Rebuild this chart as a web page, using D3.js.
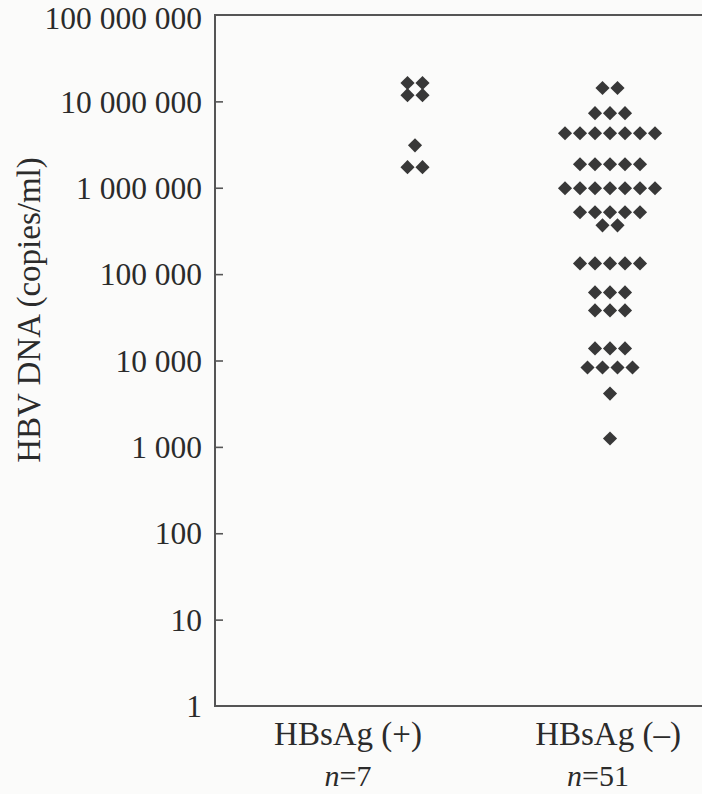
<!DOCTYPE html>
<html>
<head>
<meta charset="utf-8">
<script src="https://cdn.jsdelivr.net/npm/d3@7"></script>
<style>
  html, body { margin: 0; padding: 0; background: #fbfbfa; }
  text { font-family: "Liberation Serif", "DejaVu Serif", serif; fill: #2b2b2b; }
</style>
</head>
<body>
<div id="myPlot"></div>
<script>
// Set Dimensions
const width = 702;
const height = 794;
const plotLeft = 215, plotTop = 15, plotBottom = 706;

// Data
const groups = ["HBsAg (+)", "HBsAg (\u2013)"];
const groupN = ["7", "51"];
const yTicks = [1, 10, 100, 1000, 10000, 100000, 1000000, 10000000, 100000000];

// HBsAg (+), copies/ml, one entry per patient
const posValues = [
  16300000, 16300000,
  11800000, 11800000,
  3100000,
  1730000, 1730000
];

// HBsAg (-), copies/ml, one entry per patient
const negValues = [
  14300000, 14300000,
  7300000, 7300000, 7300000,
  4280000, 4280000, 4280000, 4280000, 4280000, 4280000, 4280000,
  1870000, 1870000, 1870000, 1870000, 1870000,
  987000, 987000, 987000, 987000, 987000, 987000, 987000,
  520000, 520000, 520000, 520000, 520000,
  367000, 367000,
  133000, 133000, 133000, 133000, 133000,
  61400, 61400, 61400,
  38000, 38000, 38000,
  13800, 13800, 13800,
  8300, 8300, 8300, 8300,
  4140,
  1250
];

const svg = d3.select("#myPlot")
  .append("svg")
  .attr("width", width)
  .attr("height", height);

// Y Axis (log)
const y = d3.scaleLog()
  .domain([1, 100000000])
  .range([plotBottom, plotTop]);

const fmt = d3.formatLocale({decimal: ".", thousands: " ", grouping: [3], currency: ["", ""]}).format(",d");

// frame (right side runs off the picture)
svg.append("path")
  .attr("d", `M${width + 10},${plotTop}H${plotLeft}V${plotBottom}H${width + 10}`)
  .attr("fill", "none")
  .attr("stroke", "#555")
  .attr("stroke-width", 2);

const yAxis = svg.append("g")
  .attr("class", "y-axis")
  .attr("transform", `translate(${plotLeft},0)`)
  .call(d3.axisLeft(y)
    .tickValues(yTicks)
    .tickFormat(fmt)
    .tickSizeInner(-8)
    .tickSizeOuter(0)
    .tickPadding(13));

yAxis.select(".domain").remove();
yAxis.selectAll(".tick line")
  .attr("stroke", "#555")
  .attr("stroke-width", 1.6);
yAxis.selectAll(".tick text")
  .attr("dy", d => d === 100000000 ? "0.42em" : "0.34em")
  .style("font-size", "31.5px")
  .style("fill", "#2b2b2b");
// hide end ticks that sit on the frame
yAxis.selectAll(".tick line").filter(d => d === 1 || d === 100000000).remove();

svg.append("text") // y-axis label
  .attr("transform", "rotate(-90)")
  .attr("x", -310)
  .attr("y", 40)
  .style("font-size", "33px")
  .style("text-anchor", "middle")
  .text("HBV DNA (copies/ml)");

// X positions
const xLabel = d3.scalePoint().domain(groups).range([348, 608]);
const xDots = d3.scalePoint().domain(groups).range([415, 610]);
const spacing = 15;

// lay each group's values out in rows of equal value
function layout(values, group) {
  const rows = d3.group(values, v => v);
  const pts = [];
  rows.forEach((arr, v) => {
    arr.forEach((_, i) => {
      pts.push({x: xDots(group) + (i - (arr.length - 1) / 2) * spacing, v: v});
    });
  });
  return pts;
}

const points = layout(posValues, groups[0]).concat(layout(negValues, groups[1]));

const diamond = d3.symbol().type(d3.symbolSquare).size(100);

svg.append("g")
  .selectAll("path")
  .data(points)
  .join("path")
  .attr("d", diamond)
  .attr("transform", d => `translate(${d.x},${y(d.v)}) rotate(45)`)
  .attr("fill", "#383838");

// Category labels
const cat = svg.append("g");
cat.selectAll(".cat")
  .data(groups)
  .join("text")
  .attr("class", "cat")
  .attr("x", d => xLabel(d))
  .attr("y", 745)
  .style("font-size", "33px")
  .style("text-anchor", "middle")
  .text(d => d);

cat.selectAll(".n")
  .data(groups)
  .join("text")
  .attr("class", "n")
  .attr("x", (d, i) => xLabel(d) - (i === 1 ? 10 : 0))
  .attr("y", 786)
  .style("font-size", "30px")
  .style("text-anchor", "middle")
  .call(t => {
    t.append("tspan").style("font-style", "italic").text("n");
    t.append("tspan").text((d, i) => "=" + groupN[i]);
  });
</script>
</body>
</html>
